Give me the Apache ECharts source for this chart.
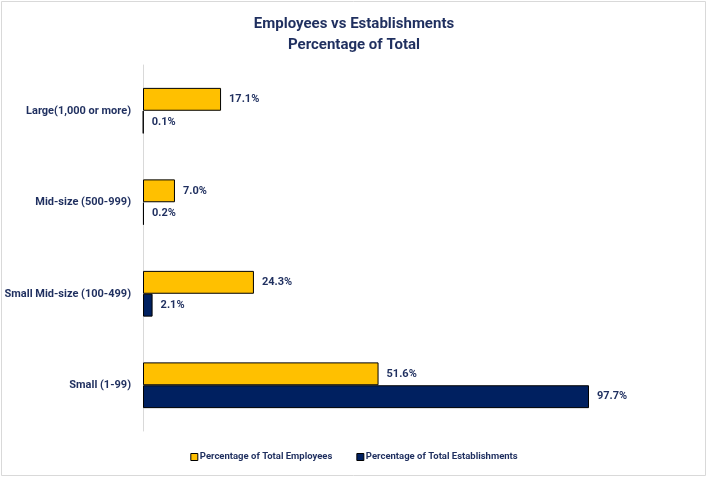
<!DOCTYPE html>
<html>
<head>
<meta charset="utf-8">
<script src="https://cdn.jsdelivr.net/npm/echarts@6/dist/echarts.min.js"></script>
<style>
html,body{margin:0;padding:0;background:#fff;}
#main{width:708px;height:479px;}
</style>
</head>
<body>
<div id="main"></div>
<script>
const titleLines = ['Employees vs Establishments', 'Percentage of Total'];
const categories = ['Large(1,000 or more)', 'Mid-size (500-999)', 'Small Mid-size (100-499)', 'Small (1-99)'];
const seriesNames = ['Percentage of Total Employees', 'Percentage of Total Establishments'];
const employees = [17.1, 7.0, 24.3, 51.6];
const establishments = [0.1, 0.2, 2.1, 97.7];

const FONT = "'Roboto', sans-serif";
const NAVY_TEXT = '#1F2F5F';

const chart = echarts.init(document.getElementById('main'), null, {renderer: 'canvas'});
const labelCfg = {
  show: true, position: 'right', distance: 8,
  formatter: p => p.value.toFixed(1) + '%',
  color: NAVY_TEXT, fontWeight: 'bold', fontSize: 11, fontFamily: FONT
};
chart.setOption({
  animation: false,
  backgroundColor: '#fff',
  graphic: [{
    type: 'rect', shape: {x: 1.5, y: 1.5, width: 704, height: 474},
    style: {fill: 'none', stroke: '#d9d9d9', lineWidth: 1}, silent: true
  }],
  title: {
    text: titleLines.join('\n'), left: 'center', top: 9,
    textStyle: {fontSize: 15, fontWeight: 'bold', color: NAVY_TEXT, fontFamily: FONT, lineHeight: 21}
  },
  legend: {
    bottom: 12, left: 'center', itemWidth: 7, itemHeight: 7, itemGap: 24,
    icon: 'rect',
    itemStyle: {borderColor: '#000', borderWidth: 1},
    textStyle: {fontSize: 9.5, fontWeight: 'bold', color: NAVY_TEXT, fontFamily: FONT, padding: [0,0,0,-3]},
    data: seriesNames
  },
  grid: {left: 143, right: 108.5, top: 65, bottom: 48, containLabel: false},
  xAxis: {
    type: 'value', min: 0, max: 100, show: false
  },
  yAxis: {
    type: 'category', data: categories, inverse: true,
    axisLine: {show: true, lineStyle: {color: '#d9d9d9'}},
    axisTick: {show: false},
    axisLabel: {color: NAVY_TEXT, fontWeight: 'bold', fontSize: 11, fontFamily: FONT, margin: 12}
  },
  series: [
    {name: seriesNames[0], type: 'bar', data: employees, barGap: '0%', barCategoryGap: '50%',
     itemStyle: {color: '#FFC000', borderColor: '#000', borderWidth: 1}, label: labelCfg},
    {name: seriesNames[1], type: 'bar', data: establishments, barGap: '0%', barCategoryGap: '50%',
     itemStyle: {color: '#002060', borderColor: '#000', borderWidth: 1}, label: labelCfg}
  ]
});
</script>
</body>
</html>
